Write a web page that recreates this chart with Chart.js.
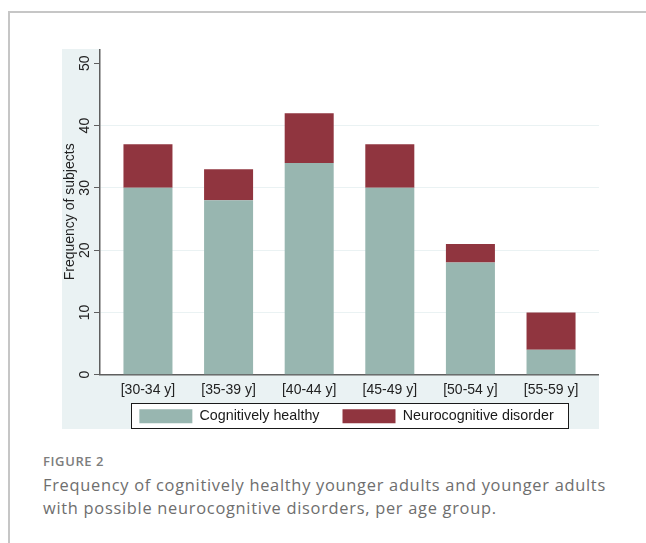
<!DOCTYPE html>
<html>
<head>
<meta charset="utf-8">
<script src="https://cdn.jsdelivr.net/npm/chart.js@4/dist/chart.umd.min.js"></script>
<style>
  html, body { margin:0; padding:0; background:#fff; width:646px; height:543px; overflow:hidden; }
  #card { position:absolute; left:8px; top:11px; width:700px; height:600px; border-left:2px solid #c6c6c6; border-top:2px solid #c6c6c6; }
  #region { position:absolute; left:62px; top:49px; width:537px; height:380px; background:#eaf2f3; }
  #cv { position:absolute; left:62px; top:49px; }
  .figlab { position:absolute; left:43px; top:455px; font-family:"Open Sans", sans-serif; font-size:13px; line-height:13px; font-weight:600; color:#7d7d7d; letter-spacing:0.6px; }
  .cap { position:absolute; left:43px; top:474px; font-family:"Open Sans", sans-serif; font-size:16.4px; line-height:22.6px; color:#6e6e6e; width:620px; letter-spacing:0.72px; white-space:nowrap; }
</style>
</head>
<body>
<div id="card"></div>
<div id="region"></div>
<canvas id="cv" width="537" height="403"></canvas>
<div class="figlab">FIGURE 2</div>
<div class="cap">Frequency of cognitively healthy younger adults and younger adults<br>with possible neurocognitive disorders, per age group.</div>
<script>
const categories = ["[30-34 y]", "[35-39 y]", "[40-44 y]", "[45-49 y]", "[50-54 y]", "[55-59 y]"];
const healthy = [30, 28, 34, 30, 18, 4];
const disorder = [7, 5, 8, 7, 3, 6];
const seriesNames = ["Cognitively healthy", "Neurocognitive disorder"];
const yTicks = [0, 10, 20, 30, 40, 50];
const yTitle = "Frequency of subjects";
const yMax = 52.3;

Chart.defaults.font.family = "'Liberation Sans', Arial, sans-serif";
Chart.defaults.font.size = 14;
Chart.defaults.color = "#222";

const toPoints = arr => arr.map((v, i) => ({ x: i, y: v }));

function legendFrame(chart) {
  const hb = chart.legend && chart.legend.legendHitBoxes;
  if (!hb || !hb.length) return null;
  const f = hb[0], l = hb[hb.length - 1];
  const x1 = Math.round(f.left - 8.5), x2 = Math.round(l.left + l.width + 14);
  const y1 = Math.round(f.top - 6.5), y2 = Math.round(f.top + f.height + 5);
  return { x1, x2, y1, y2 };
}

const plotBg = {
  id: 'plotBg',
  afterLayout(chart) {
    const lg = chart.legend, a = chart.chartArea;
    if (!lg) return;
    const dx = (a.left + a.right) / 2 - (lg.left + lg.right) / 2 - 3;
    lg.left += dx; lg.right += dx;
    const pad = lg.options.labels.padding;
    const dy = (a.bottom + 34.3 - pad) - lg.top;
    lg.top += dy; lg.bottom += dy;
  },
  beforeDraw(chart) {
    const { ctx, chartArea: a } = chart;
    ctx.save();
    ctx.fillStyle = '#ffffff';
    ctx.fillRect(a.left, a.top, a.right - a.left, a.bottom - a.top);
    const fr = legendFrame(chart);
    if (fr) ctx.fillRect(fr.x1, fr.y1, fr.x2 - fr.x1, fr.y2 - fr.y1);
    ctx.restore();
  },
  afterDraw(chart) {
    const { ctx } = chart;
    const y = chart.scales.y;
    ctx.save();
    ctx.fillStyle = '#222';
    ctx.font = "14px 'Liberation Sans', Arial, sans-serif";
    ctx.textAlign = 'center';
    ctx.textBaseline = 'alphabetic';
    const bx = chart.chartArea.left - 11;
    yTicks.forEach(v => {
      ctx.save();
      ctx.translate(bx, y.getPixelForValue(v));
      ctx.rotate(-Math.PI / 2);
      ctx.fillText(String(v), 0, 0);
      ctx.restore();
    });
    const fr = legendFrame(chart);
    if (fr) {
      ctx.strokeStyle = '#1a1a1a';
      ctx.lineWidth = 1;
      ctx.strokeRect(fr.x1 + 0.5, fr.y1 + 0.5, fr.x2 - fr.x1, fr.y2 - fr.y1);
    }
    ctx.restore();
  }
};

new Chart(document.getElementById('cv'), {
  type: 'bar',
  data: {
    datasets: [
      { label: seriesNames[0], data: toPoints(healthy), backgroundColor: '#98b6b0', borderWidth: 0 },
      { label: seriesNames[1], data: toPoints(disorder), backgroundColor: '#90353f', borderWidth: 0 }
    ]
  },
  options: {
    responsive: false,
    animation: false,
    devicePixelRatio: 1,
    barPercentage: 0.608,
    categoryPercentage: 1,
    layout: { padding: 0 },
    plugins: {
      legend: {
        position: 'bottom',
        labels: { boxWidth: 53, boxHeight: 14, padding: 23, color: '#1a1a1a', font: { size: 14.3 } }
      },
      tooltip: { enabled: false }
    },
    scales: {
      x: {
        type: 'linear',
        stacked: true,
        offset: false,
        min: -0.595,
        max: 5.595,
        afterBuildTicks: s => { s.ticks = categories.map((_, i) => ({ value: i })); },
        afterFit: s => { s.height = 30; },
        ticks: { callback: v => categories[v], autoSkip: false, maxRotation: 0, minRotation: 0, padding: 7.5, color: '#222' },
        grid: { display: true, offset: false, drawOnChartArea: false, drawTicks: false },
        border: { display: true, color: '#5f5f5f', width: 1.5 }
      },
      y: {
        stacked: true,
        min: 0,
        max: yMax,
        afterBuildTicks: s => { s.ticks = yTicks.map(v => ({ value: v })); },
        afterFit: s => { s.width = 38; },
        ticks: { display: false },
        grid: {
          color: c => (c.tick && c.tick.value > 0 && c.tick.value < 50) ? '#eaf2f3' : 'rgba(0,0,0,0)',
          lineWidth: 1,
          tickColor: '#5f5f5f',
          tickLength: 6,
          drawTicks: true
        },
        border: { display: true, color: '#5f5f5f', width: 1.5 },
        title: { display: true, text: yTitle, color: '#222', padding: 0, font: { size: 14, lineHeight: 1.2 } }
      }
    }
  },
  plugins: [plotBg]
});
</script>
</body>
</html>
